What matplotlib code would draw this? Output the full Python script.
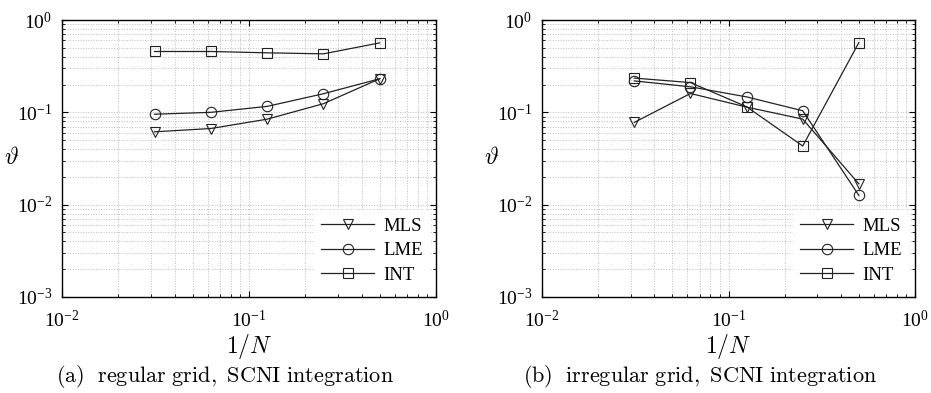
import numpy as np
import matplotlib.pyplot as plt

plt.rcParams['font.family'] = ['Liberation Serif', 'DejaVu Serif']
plt.rcParams['mathtext.fontset'] = 'stix'

## 1/N values
inv_n = [1/32, 1/16, 1/8, 1/4, 1/2]

## (a) regular grid
mls_a = [0.0615, 0.0668, 0.0843, 0.124, 0.231]
lme_a = [0.0954, 0.100, 0.116, 0.159, 0.231]
int_a = [0.456, 0.456, 0.441, 0.430, 0.565]

## (b) irregular grid
mls_b = [0.0778, 0.160, 0.114, 0.0845, 0.0168]
lme_b = [0.219, 0.189, 0.147, 0.104, 0.0126]
int_b = [0.235, 0.210, 0.115, 0.0432, 0.569]

names = ['MLS', 'LME', 'INT']
markers = ['v', 'o', 's']
captions = [r'$\mathrm{(a)\ \ regular\ grid,\ SCNI\ integration}$',
            r'$\mathrm{(b)\ \ irregular\ grid,\ SCNI\ integration}$']

fig = plt.figure(figsize=(9.31, 3.93), dpi=100)
ax1 = fig.add_axes([62/931, 1-297/393, 374/931, 277/393])
ax2 = fig.add_axes([542/931, 1-297/393, 373/931, 277/393])

for ax, data, cap, shift in [(ax1, [mls_a, lme_a, int_a], captions[0], -24),
                             (ax2, [mls_b, lme_b, int_b], captions[1], -29)]:
    for vals, m, name in zip(data, markers, names):
        ax.plot(inv_n, vals, '-', color='#222222', lw=0.9, marker=m, ms=7.5,
                mfc='none', mec='#222222', mew=0.8, label=name)
    ax.set_xscale('log')
    ax.set_yscale('log')
    ax.set_xlim(1e-2, 1)
    ax.set_ylim(1e-3, 1)
    ax.grid(True, which='both', ls=':', color='#bdbdbd', lw=0.7)
    ax.tick_params(which='both', direction='in', top=True, right=True, labelsize=14)
    ax.tick_params(axis='x', which='major', pad=9)
    ax.tick_params(axis='y', which='major', pad=7)
    ax.tick_params(which='major', length=4)
    ax.tick_params(which='minor', length=2)
    for s in ax.spines.values():
        s.set_linewidth(1.0)
    ax.set_xlabel(r'$1/N$', fontsize=17, labelpad=1, math_fontfamily='cm')
    ax.set_ylabel(r'$\vartheta$', fontsize=17, rotation=0, va='center',
                  math_fontfamily='cm')
    ax.yaxis.set_label_coords(-0.134, 0.5)
    ax.legend(loc='lower right', frameon=True, fancybox=False, fontsize=13.5,
              edgecolor='white', framealpha=1, handlelength=2.8,
              borderaxespad=0.3, labelspacing=0.4, handletextpad=0.5)
    bb = ax.get_position()
    fig.text((bb.x0 + bb.x1) / 2 + shift / 931, 1 - 377/393, cap, ha='center',
             va='center', fontsize=16, math_fontfamily='cm')

fig.savefig('out.png', dpi=100)
